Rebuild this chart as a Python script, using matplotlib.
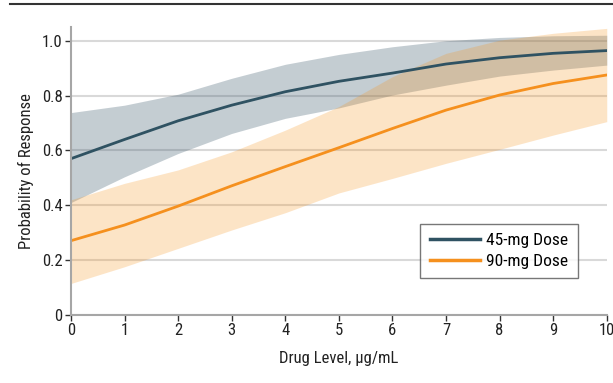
import matplotlib
matplotlib.use("Agg")
import matplotlib.pyplot as plt
from matplotlib.lines import Line2D
from matplotlib import font_manager

# look for a narrow face, otherwise fall back on DejaVu
names = set(f.name for f in font_manager.fontManager.ttflist)
fam = ['DejaVu Sans']
for cand in ['Liberation Sans Narrow', 'DejaVu Sans Condensed', 'Roboto Condensed', 'Open Sans Condensed']:
    if cand in names:
        fam = [cand, 'DejaVu Sans']
        break
plt.rcParams['font.family'] = fam
plt.rcParams['font.stretch'] = 'condensed'

# Drug level (ug/mL)
drug_level = [0, 1, 2, 3, 4, 5, 6, 7, 8, 9, 10]

# 45-mg dose: fitted probability and confidence band
p45 = [0.570, 0.640, 0.708, 0.765, 0.814, 0.852, 0.882, 0.915, 0.938, 0.954, 0.964]
p45_lo = [0.410, 0.504, 0.589, 0.662, 0.717, 0.755, 0.802, 0.838, 0.871, 0.893, 0.911]
p45_hi = [0.738, 0.765, 0.805, 0.863, 0.914, 0.950, 0.978, 1.000, 1.012, 1.018, 1.020]

# 90-mg dose: fitted probability and confidence band
p90 = [0.271, 0.328, 0.397, 0.471, 0.541, 0.610, 0.680, 0.747, 0.802, 0.844, 0.875]
p90_lo = [0.115, 0.176, 0.243, 0.310, 0.373, 0.445, 0.498, 0.553, 0.604, 0.656, 0.705]
p90_hi = [0.420, 0.480, 0.529, 0.595, 0.674, 0.760, 0.869, 0.954, 1.002, 1.027, 1.045]

x_ticks = [0, 1, 2, 3, 4, 5, 6, 7, 8, 9, 10]
y_ticks = [0, 0.2, 0.4, 0.6, 0.8, 1.0]
y_labels = ['0', '0.2', '0.4', '0.6', '0.8', '1.0']

dark = '#2f5262'
orange = '#f5901e'

fig = plt.figure(figsize=(6.13, 3.83), dpi=100)
ax = fig.add_axes([0.1158, 0.1775, 0.874, 0.752])

ax.fill_between(drug_level, p45_lo, p45_hi, color='#3d5a6c', alpha=0.3, linewidth=0)
ax.fill_between(drug_level, p90_lo, p90_hi, color='#f7941d', alpha=0.25, linewidth=0)
ax.plot(drug_level, p45, color=dark, linewidth=2)
ax.plot(drug_level, p90, color=orange, linewidth=2)

ax.set_xlim(0, 10)
ax.set_ylim(0, 1.05)
ax.set_xticks(x_ticks)
ax.set_yticks(y_ticks)
ax.set_yticklabels(y_labels)
ax.grid(axis='y', color='#d9d9d9', linewidth=1.5)
ax.set_axisbelow(True)

for s in ['top', 'right']:
    ax.spines[s].set_visible(False)
for s in ['left', 'bottom']:
    ax.spines[s].set_color('#a6a6a6')
    ax.spines[s].set_linewidth(1.5)
ax.tick_params(direction='out', length=4, width=1, color='#333333', pad=2,
               labelsize=12, labelcolor='#222222')

ax.set_xlabel('Drug Level, µg/mL', fontsize=12, color='#222222', labelpad=9)
ax.set_ylabel('Probability of Response', fontsize=12, color='#222222', labelpad=6)

handles = [Line2D([0], [0], color=dark, linewidth=2.5),
           Line2D([0], [0], color=orange, linewidth=2.5)]
leg = ax.legend(handles, ['45-mg Dose', '90-mg Dose'], loc='lower right',
                bbox_to_anchor=(0.946, 0.128), borderaxespad=0, fontsize=12.5,
                fancybox=False, borderpad=0.55, handlelength=2.9,
                handletextpad=0.35, labelspacing=0.3)
leg.get_frame().set_edgecolor('#555555')
leg.get_frame().set_linewidth(1)

# rule across the top of the figure
fig.add_artist(Line2D([0.016, 1.0], [0.989, 0.989], color='#333333', linewidth=1.5))

fig.savefig('out.png', dpi=100)
